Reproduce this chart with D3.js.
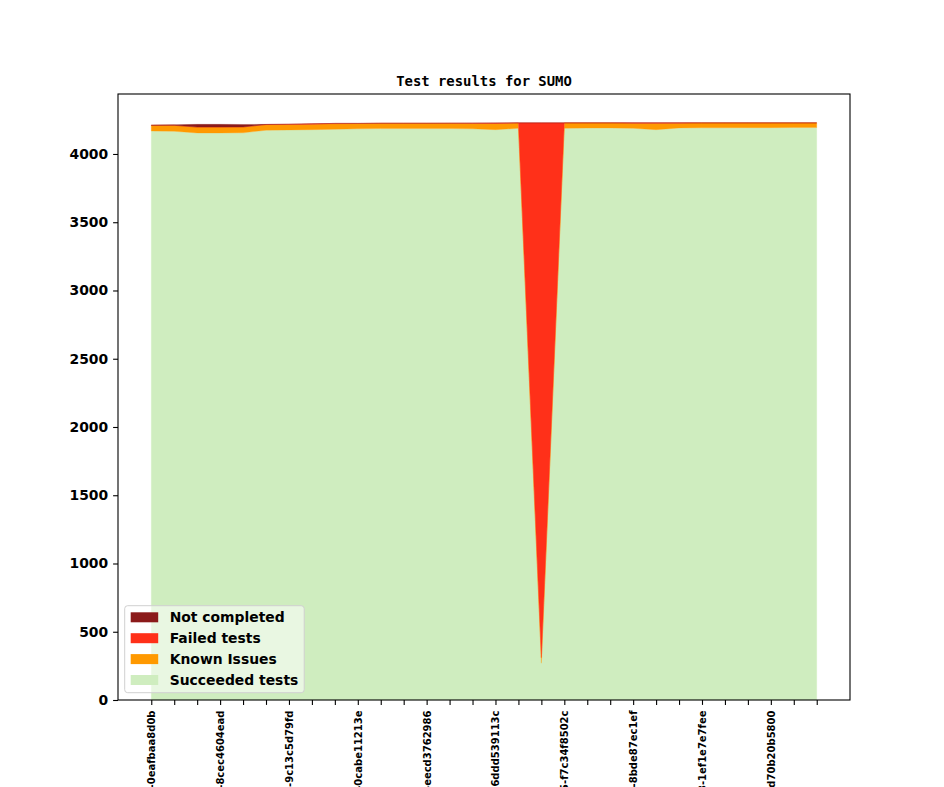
<!DOCTYPE html>
<html>
<head>
<meta charset="utf-8">
<script src="https://cdn.jsdelivr.net/npm/d3@7"></script>
<style>
  html, body { margin: 0; padding: 0; background: #fff; overflow: hidden; }
  svg { display: block; }
</style>
</head>
<body>
<svg id="chart" width="944" height="787"></svg>
<script>
// ---- data ----
const chartTitle = "Test results for SUMO";
const tickLabels = [
  "v1_2_0+0411-0eafbaa8d0b",
  "v1_2_0+0436-8cec4604ead",
  "v1_2_0+0459-9c13c5d79fd",
  "v1_2_0+0480-0cabe11213e",
  "v1_2_0+0502-eecd3762986",
  "v1_2_0+0524-6ddd539113c",
  "v1_2_0+0545-f7c34f8502c",
  "v1_2_0+0561-8bde87ec1ef",
  "v1_2_0+0583-1ef1e7e7fee",
  "v1_2_0+0604-d70b20b5800"
];
const labelEvery = 3;
const seriesNames = ["Succeeded tests", "Known Issues", "Failed tests", "Not completed"];
const succeeded    = [4168,4166,4154,4154,4155,4174,4176,4178,4181,4184,4186,4186,4186,4186,4184,4178,4188, 270,4188,4190,4191,4188,4178,4191,4192,4192,4193,4193,4194,4194];
const knownIssues  = [  42,  44,  43,  43,  43,  41,  40,  40,  40,  39,  39,  39,  39,  39,  40,  46,  39,  40,  40,  38,  37,  37,  47,  35,  36,  36,  35,  35,  34,  34];
const failed       = [   0,   0,   0,   0,   0,   1,   2,   3,   3,   1,   0,   0,   0,   0,   2,   3,   1,3918,   0,   0,   0,   3,   3,   2,   0,   0,   0,   0,   0,   0];
const notCompleted = [   2,   4,  20,  20,  18,   1,   0,   0,   0,   0,   0,   0,   0,   1,   0,   0,   0,   0,   0,   0,   0,   0,   0,   0,   0,   0,   0,   0,   0,   0];
const yTicks = [0, 500, 1000, 1500, 2000, 2500, 3000, 3500, 4000];
const colors = ["#cfedbf", "#ff9900", "#ff3019", "#8b1a1a"];

// ---- layout ----
const svg = d3.select("#chart");
const L = 118, R = 850, T = 94, B = 700;
const n = succeeded.length;
const rows = d3.range(n).map(i => ({
  i,
  "Succeeded tests": succeeded[i],
  "Known Issues": knownIssues[i],
  "Failed tests": failed[i],
  "Not completed": notCompleted[i]
}));
const stack = d3.stack().keys(seriesNames)(rows);
const maxTotal = d3.max(rows, r => seriesNames.reduce((s, k) => s + r[k], 0));

const pad = (n - 1) * 0.05;
const x = d3.scaleLinear().domain([-pad, n - 1 + pad]).range([L, R]);
const y = d3.scaleLinear().domain([0, maxTotal * 1.05]).range([B, T]);

const area = d3.area()
  .x(d => x(d.data.i))
  .y0(d => y(d[0]))
  .y1(d => y(d[1]));

svg.append("g").selectAll("path")
  .data(stack)
  .join("path")
  .attr("d", area)
  .attr("fill", (d, k) => colors[k])
  .attr("stroke", (d, k) => colors[k])
  .attr("stroke-width", 0.3);

// frame
svg.append("rect")
  .attr("x", L).attr("y", T).attr("width", R - L).attr("height", B - T)
  .attr("fill", "none").attr("stroke", "#000").attr("stroke-width", 1.1);

// y axis
const yAxis = svg.append("g").attr("transform", `translate(${L},0)`)
  .call(d3.axisLeft(y).tickValues(yTicks).tickSize(4.9).tickPadding(4.9).tickFormat(d3.format("d")));
yAxis.select(".domain").remove();
yAxis.selectAll("line").attr("stroke", "#000").attr("stroke-width", 1.1);
yAxis.selectAll("text")
  .attr("font-family", "DejaVu Sans").attr("font-weight", "bold")
  .attr("font-size", "13.9px").attr("fill", "#000");

// x axis
const xAxis = svg.append("g").attr("transform", `translate(0,${B})`)
  .call(d3.axisBottom(x).tickValues(d3.range(n)).tickSize(4.9).tickPadding(4.9)
    .tickFormat(i => (i % labelEvery === 0 && tickLabels[i / labelEvery]) ? tickLabels[i / labelEvery] : ""));
xAxis.select(".domain").remove();
xAxis.selectAll("line").attr("stroke", "#000").attr("stroke-width", 1.1);
xAxis.selectAll("text")
  .attr("font-family", "DejaVu Sans").attr("font-weight", "bold")
  .attr("font-size", "10px").attr("fill", "#000")
  .attr("text-anchor", "end")
  .attr("transform", "rotate(-90)")
  .attr("x", -10.5).attr("y", 0).attr("dy", "0.35em");

// title
svg.append("text")
  .attr("x", (L + R) / 2).attr("y", 86)
  .attr("text-anchor", "middle")
  .attr("font-family", "DejaVu Sans Mono").attr("font-weight", "bold")
  .attr("font-size", "13.9px").attr("fill", "#000")
  .text(chartTitle);

// legend
const lg = svg.append("g").attr("transform", "translate(124.7,605.7)");
lg.append("rect")
  .attr("width", 179.5).attr("height", 87)
  .attr("rx", 3).attr("ry", 3)
  .attr("fill", "#fff").attr("fill-opacity", 0.55)
  .attr("stroke", "#d0d0d0").attr("stroke-width", 1);
const legendOrder = [3, 2, 1, 0];
legendOrder.forEach((k, j) => {
  const gy = 6.6 + j * 20.9;
  lg.append("rect").attr("x", 6).attr("y", gy).attr("width", 27.5).attr("height", 10)
    .attr("fill", colors[k]);
  lg.append("text").attr("x", 45).attr("y", gy + 5).attr("dy", "0.36em")
    .attr("font-family", "DejaVu Sans").attr("font-weight", "bold")
    .attr("font-size", "13.9px").attr("fill", "#000")
    .text(seriesNames[k]);
});
</script>
</body>
</html>
